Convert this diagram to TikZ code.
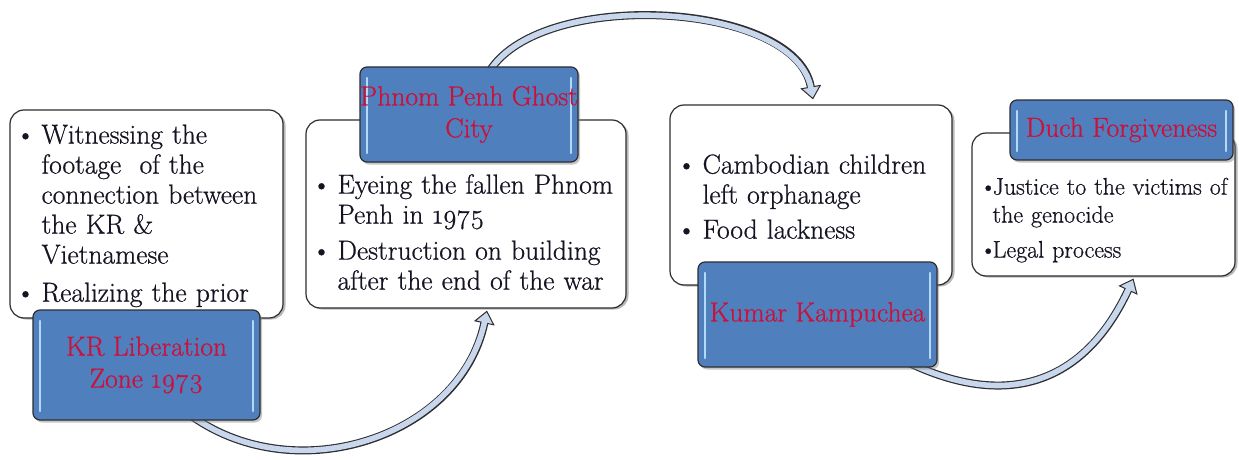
\documentclass[tikz,border=0pt]{standalone}
\usepackage{fontspec}
\setmainfont{Latin Modern Roman}[FakeBold=0.7]
\usetikzlibrary{arrows.meta, shadows}

\definecolor{boxblue}{RGB}{79,127,189}
\definecolor{titlered}{RGB}{204,16,58}
\definecolor{arrowfill}{RGB}{200,215,235}
\definecolor{edgegray}{RGB}{45,45,50}
\definecolor{shine}{RGB}{178,218,248}
\definecolor{textdark}{RGB}{20,20,35}

\pgfdeclarelayer{back}
\pgfsetlayers{back,main}

\newcommand{\bul}[2]{\par\noindent\hangindent=#1\hangafter=1\makebox[#1][l]{\textbullet}\ignorespaces#2\par}

\tikzset{
  infobox/.style={draw=edgegray, line width=1.2pt, fill=white, rounded corners=14pt,
    drop shadow={shadow xshift=2.5pt, shadow yshift=-1.5pt, opacity=0.55}},
  infotext/.style={anchor=north west, inner sep=0pt, align=left, text=textdark,
    font=\fontsize{27.5}{30}\selectfont},
  titlebox/.style={draw=edgegray, line width=1.2pt, fill=boxblue, rounded corners=7pt,
    inner xsep=0pt, text=titlered, align=center, font=\fontsize{27.5}{32}\selectfont,
    drop shadow={shadow xshift=2pt, shadow yshift=-2.5pt, opacity=0.45},
    path picture={
      \draw[shine, line width=2.5pt, line cap=round]
        ([xshift=7pt,yshift=-11pt]path picture bounding box.north west) --
        ([xshift=7pt,yshift=9pt]path picture bounding box.south west);
      \draw[shine, line width=2.5pt, line cap=round]
        ([xshift=-7pt,yshift=-11pt]path picture bounding box.north east) --
        ([xshift=-7pt,yshift=9pt]path picture bounding box.south east);
    }},
  arrowedge/.style={draw=edgegray, line width=8pt,
    -{Triangle[length=13pt, width=21pt, line width=1pt, fill=arrowfill]}},
  arrowbody/.style={draw=arrowfill, line width=5.6pt, shorten >=11pt},
}

\begin{document}
\begin{tikzpicture}[x=1pt, y=1pt]
\useasboundingbox (0,0) rectangle (1239,-460);

% White boxes
\node[infobox, minimum width=273pt, minimum height=208pt] (witbox) at (146.5,-214) {};
\node[infobox, minimum width=320pt, minimum height=188pt] (ppbox) at (466,-214) {};
\node[infobox, minimum width=282pt, minimum height=180pt] (cambox) at (811,-195) {};
\node[infobox, minimum width=263pt, minimum height=143pt] (duchbox) at (1103.5,-204.5) {};

% Bullet texts
\node[infotext, text width=262pt] (wittext) at ([xshift=6pt,yshift=-4pt]witbox.north west)
  {\bul{26pt}{Witnessing the\newline footage\ \ of the\newline connection between\newline the KR \&\newline Vietnamese}\vspace{8pt}\bul{26pt}{Realizing the prior}};
\node[infotext, text width=305pt] (pptext) at ([xshift=6pt,yshift=-44pt]ppbox.north west)
  {\bul{26pt}{Eyeing the fallen Phnom\newline Penh in \oldstylenums{1975}}\vspace{6pt}\bul{26pt}{Destruction on building\newline after the end of the war}};
\node[infotext, text width=268pt] (camtext) at ([xshift=7pt,yshift=-39pt]cambox.north west)
  {\bul{26pt}{Cambodian children\newline left orphanage}\vspace{5pt}\bul{26pt}{Food lackness}};
\node[infotext, text width=262pt, font=\fontsize{24}{28}\selectfont] (duchtext) at ([xshift=8pt,yshift=-34pt]duchbox.north west)
  {\bul{13pt}{Justice to the victims of\newline the genocide}\vspace{7pt}\bul{13pt}{Legal process}};

% Title boxes
\node[titlebox, minimum width=227pt, minimum height=110pt] (krzone) at (146.5,-365) {KR Liberation\\Zone \oldstylenums{1973}};
\node[titlebox, minimum width=218pt, minimum height=95pt] (ppcity) at (469,-114.5) {Phnom Penh Ghost\\City};
\node[titlebox, minimum width=239pt, minimum height=105pt] (kumar) at (817.5,-314.5) {Kumar Kampuchea};
\node[titlebox, minimum width=223pt, minimum height=60pt] (duch) at (1121.5,-130) {Duch Forgiveness};

% Curved arrows
\begin{pgfonlayer}{back}
\draw[arrowedge] ([xshift=46pt,yshift=4pt]krzone.south) to[out=-35,in=-102,looseness=1.05] ([xshift=21pt,yshift=-2pt]ppbox.south);
\draw[arrowbody] ([xshift=46pt,yshift=4pt]krzone.south) to[out=-35,in=-102,looseness=1.05] ([xshift=21pt,yshift=-2pt]ppbox.south);
\draw[arrowedge] ([xshift=21pt,yshift=-4pt]ppcity.north) to[out=57,in=100,looseness=0.78] ([xshift=2pt,yshift=5pt]cambox.north);
\draw[arrowbody] ([xshift=21pt,yshift=-4pt]ppcity.north) to[out=57,in=100,looseness=0.78] ([xshift=2pt,yshift=5pt]cambox.north);
\draw[arrowedge] ([xshift=-27pt,yshift=4pt]kumar.south east) to[out=-25,in=-115,looseness=1.2] ([xshift=30pt,yshift=-2pt]duchbox.south);
\draw[arrowbody] ([xshift=-27pt,yshift=4pt]kumar.south east) to[out=-25,in=-115,looseness=1.2] ([xshift=30pt,yshift=-2pt]duchbox.south);
\end{pgfonlayer}

\end{tikzpicture}
\end{document}
